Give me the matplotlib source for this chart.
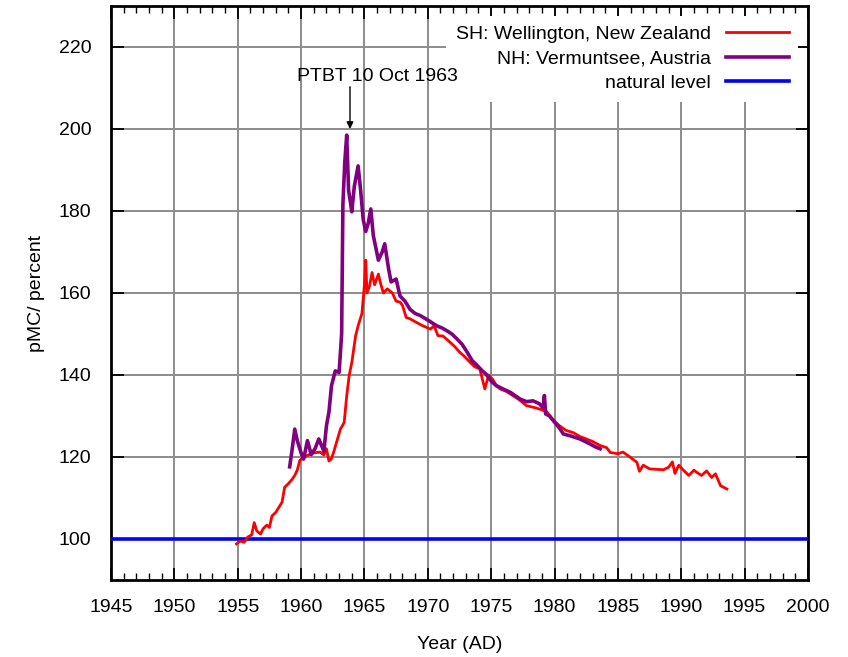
import matplotlib
matplotlib.use("Agg")
import matplotlib.pyplot as plt
from matplotlib.ticker import MultipleLocator

# SH: Wellington, New Zealand
sh_year = [1954.9, 1955.2, 1955.5, 1955.8, 1956.1, 1956.3, 1956.5, 1956.8, 1957.0, 1957.3,
           1957.5, 1957.7, 1958.0, 1958.3, 1958.5, 1958.7, 1959.0, 1959.3, 1959.5, 1959.7,
           1959.9, 1960.2, 1960.5, 1961.0, 1961.5, 1961.8, 1962.0, 1962.2, 1962.4, 1962.6,
           1962.8, 1963.1, 1963.4, 1963.6, 1963.8, 1964.0, 1964.3, 1964.5, 1964.8, 1965.0,
           1965.1, 1965.2, 1965.4, 1965.6, 1965.8, 1966.1, 1966.3, 1966.5, 1966.8, 1967.2,
           1967.5, 1967.8, 1968.0, 1968.3, 1968.6, 1969.0, 1969.6, 1970.2, 1970.5, 1970.8,
           1971.2, 1971.75, 1972.1, 1972.5, 1972.9, 1973.3, 1973.7, 1974.1, 1974.5, 1974.8,
           1975.1, 1975.4, 1975.7, 1976.2, 1976.7, 1977.2, 1977.8, 1978.5, 1979.0, 1979.4,
           1979.9, 1980.4, 1980.9, 1981.5, 1982.0, 1982.5, 1983.0, 1983.6, 1984.1, 1984.4,
           1985.0, 1985.4, 1985.95, 1986.5, 1986.7, 1987.0, 1987.5, 1988.0, 1988.6, 1989.0,
           1989.3, 1989.5, 1989.8, 1990.2, 1990.6, 1991.0, 1991.2, 1991.6, 1992.0, 1992.4,
           1992.7, 1993.1, 1993.6]
sh_pmc = [98.8, 99.5, 99.2, 100.5, 101.0, 104.0, 102.0, 101.2, 102.5, 103.4,
          102.8, 105.6, 106.5, 108.0, 109.0, 112.6, 113.5, 114.6, 115.5, 116.8,
          119.2, 119.8, 120.4, 121.0, 121.2, 120.5, 122.0, 119.0, 119.6, 121.5,
          123.6, 126.8, 128.4, 134.9, 140.0, 143.0, 149.5, 152.0, 155.0, 162.0,
          168.0, 160.0, 161.7, 165.0, 162.0, 164.6, 162.0, 160.0, 161.0, 160.0,
          158.0, 157.8, 157.0, 154.0, 153.7, 153.0, 152.0, 151.2, 152.0, 149.6,
          149.5, 148.0, 147.0, 145.6, 144.5, 143.2, 142.0, 141.5, 136.6, 140.0,
          139.0, 137.5, 136.6, 136.0, 135.0, 134.0, 132.5, 132.0, 131.5, 131.0,
          129.0, 127.6, 126.5, 125.9, 125.0, 124.4, 123.8, 122.8, 122.3, 121.1,
          120.8, 121.2, 120.0, 118.7, 116.5, 118.0, 117.1, 117.0, 116.9, 117.5,
          118.8, 116.0, 118.0, 116.7, 115.5, 116.8, 116.3, 115.5, 116.6, 115.0,
          115.9, 113.0, 112.2]

# NH: Vermuntsee, Austria
nh_year = [1959.1, 1959.3, 1959.5, 1959.7, 1960.0, 1960.2, 1960.5, 1960.8, 1961.1, 1961.4,
           1961.8, 1962.0, 1962.2, 1962.4, 1962.7, 1963.0, 1963.2, 1963.3, 1963.45, 1963.6,
           1963.75, 1963.9, 1964.0, 1964.2, 1964.5, 1964.7, 1964.9, 1965.1, 1965.3, 1965.5,
           1965.7, 1966.1, 1966.4, 1966.6, 1966.9, 1967.1, 1967.5, 1967.8, 1968.2, 1968.6,
           1969.0, 1969.4, 1970.1, 1970.7, 1971.1, 1971.5, 1971.9, 1972.3, 1972.7, 1973.1,
           1973.5, 1973.9, 1974.3, 1974.6, 1975.0, 1975.4, 1976.0, 1976.5, 1977.3, 1977.8,
           1978.3, 1978.8, 1979.1, 1979.2, 1979.3, 1979.6, 1980.0, 1980.4, 1980.7, 1981.2,
           1981.6, 1982.0, 1982.4, 1982.8, 1983.2, 1983.6]
nh_pmc = [117.6, 122.0, 126.8, 124.0, 121.0, 119.5, 124.0, 120.6, 122.0, 124.4,
          121.4, 127.6, 131.0, 137.4, 141.0, 140.6, 150.0, 181.7, 192.0, 198.5,
          185.0, 182.0, 179.8, 186.0, 191.0, 185.0, 178.0, 175.0, 177.0, 180.5,
          174.0, 168.0, 170.0, 172.0, 166.0, 162.7, 163.4, 159.3, 158.0, 156.0,
          155.0, 154.5, 153.2, 152.0, 151.5, 150.8, 150.0, 148.8, 147.5, 145.6,
          143.5, 142.3, 141.0, 140.2, 138.5, 137.4, 136.5, 135.8, 134.1, 133.5,
          133.7, 133.0, 132.0, 135.0, 130.5, 130.0, 128.5, 127.0, 125.6, 125.2,
          124.8, 124.4, 123.8, 123.2, 122.5, 122.0]

natural_level = 100

plt.rcParams["font.family"] = ["Liberation Sans", "DejaVu Sans"]
plt.rcParams["font.size"] = 14

fig = plt.figure(figsize=(8.48, 6.57), dpi=100)
ax = fig.add_axes([0.1309, 0.1172, 0.8219, 0.8737])

ax.axhline(natural_level, color="#0000ff", linewidth=2.6, zorder=3)
ax.plot(sh_year, sh_pmc, color="#ff0000", linewidth=2.0, zorder=4,
        label="SH: Wellington, New Zealand")
ax.plot(nh_year, nh_pmc, color="#800080", linewidth=2.6, zorder=5,
        label="NH: Vermuntsee, Austria")
ax.plot([], [], color="#0000ff", linewidth=2.6, label="natural level")

ax.set_xlim(1945, 2000)
ax.set_ylim(90, 230)
ax.xaxis.set_major_locator(MultipleLocator(5))
ax.xaxis.set_minor_locator(MultipleLocator(1))
ax.set_yticks(range(100, 221, 20))
ax.tick_params(which="both", direction="in", top=True, right=True)
ax.tick_params(which="major", length=9, width=1.3)
ax.tick_params(which="minor", length=5, width=1.0)
ax.tick_params(axis="x", pad=14)
ax.tick_params(axis="y", pad=14)
ax.grid(True, which="major", color="#8c8c8c", linewidth=1.4)
ax.set_axisbelow(True)
for sp in ax.spines.values():
    sp.set_linewidth(2.0)

ax.set_xlabel("Year (AD)", labelpad=14)
ax.set_ylabel("pMC/ percent", labelpad=10)

ax.text(1966.0, 212.9, "PTBT 10 Oct 1963", ha="center", va="center", zorder=6)
ax.annotate("", xy=(1963.86, 200), xytext=(1963.86, 210.3),
            arrowprops=dict(arrowstyle="-|>", color="black", lw=1.0,
                            mutation_scale=10, shrinkA=0, shrinkB=0), zorder=6)

leg = ax.legend(loc="upper right", markerfirst=False, frameon=True,
                handlelength=3.2, borderaxespad=0.5, labelspacing=0.35,
                borderpad=0.5, fancybox=False, handletextpad=0.8)
leg.get_frame().set_facecolor("white")
leg.get_frame().set_edgecolor("none")
leg.get_frame().set_alpha(1.0)
for t in leg.get_texts():
    t.set_ha("right")
leg._legend_box.align = "right"

fig.savefig("out.png", dpi=100)
